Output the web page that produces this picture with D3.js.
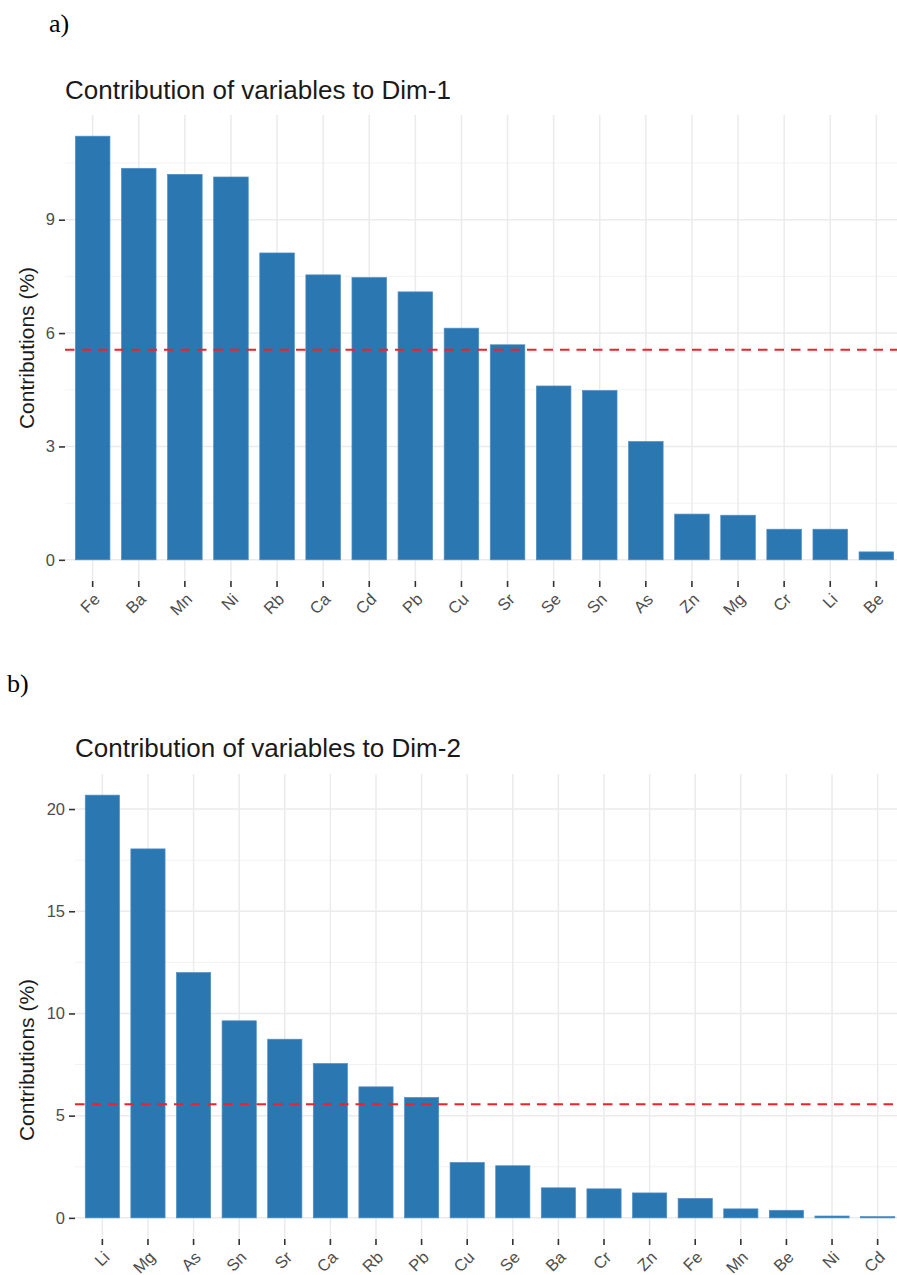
<!DOCTYPE html>
<html>
<head>
<meta charset="utf-8">
<script src="https://cdn.jsdelivr.net/npm/d3@7"></script>
<style>
  body { margin: 0; background: #fff; }
  svg { display: block; font-family: "Liberation Sans", Arial, sans-serif; }
</style>
</head>
<body>
<svg id="chart" width="897" height="1275"></svg>
<script>
// contributions
let dim1Vars = ["Fe", "Ba", "Mn", "Ni", "Rb", "Ca", "Cd", "Pb", "Cu", "Sr", "Se", "Sn", "As", "Zn", "Mg", "Cr", "Li", "Be"];
let dim1Vals = [11.21, 10.36, 10.20, 10.13, 8.12, 7.54, 7.47, 7.09, 6.13, 5.69, 4.60, 4.48, 3.13, 1.21, 1.18, 0.81, 0.81, 0.21];
let dim1Ticks = [0, 3, 6, 9];
let dim1Minor = [1.5, 4.5, 7.5, 10.5];

let dim2Vars = ["Li", "Mg", "As", "Sn", "Sr", "Ca", "Rb", "Pb", "Cu", "Se", "Ba", "Cr", "Zn", "Fe", "Mn", "Be", "Ni", "Cd"];
let dim2Vals = [20.68, 18.05, 12.00, 9.64, 8.74, 7.55, 6.41, 5.89, 2.71, 2.55, 1.47, 1.42, 1.22, 0.95, 0.44, 0.37, 0.09, 0.06];
let dim2Ticks = [0, 5, 10, 15, 20];
let dim2Minor = [2.5, 7.5, 12.5, 17.5];

let refLine = 5.56; // expected average contribution (100/18)

let svg = d3.select("#chart");
svg.append("rect").attr("width", 897).attr("height", 1275).attr("fill", "#fff");

function drawPanel(opt) {
    let g = svg.append("g");

    let x = d3.scaleBand()
        .domain(opt.vars)
        .range([opt.left, opt.right])
        .paddingInner(0.25)
        .paddingOuter(0.225);

    let maxV = d3.max(opt.vals);
    let y = d3.scaleLinear()
        .domain([-0.05 * maxV, 1.05 * maxV])
        .range([opt.bottom, opt.top]);

    // minor grid
    g.selectAll(".minor")
        .data(opt.minor)
        .enter().append("line")
        .attr("x1", opt.left).attr("x2", opt.right)
        .attr("y1", d => y(d)).attr("y2", d => y(d))
        .attr("stroke", "#f0f0f0")
        .attr("stroke-width", 0.9);

    // major grid
    g.selectAll(".majorY")
        .data(opt.ticks)
        .enter().append("line")
        .attr("x1", opt.left).attr("x2", opt.right)
        .attr("y1", d => y(d)).attr("y2", d => y(d))
        .attr("stroke", "#ebebeb")
        .attr("stroke-width", 1.5);

    g.selectAll(".majorX")
        .data(opt.vars)
        .enter().append("line")
        .attr("x1", d => x(d) + x.bandwidth() / 2)
        .attr("x2", d => x(d) + x.bandwidth() / 2)
        .attr("y1", opt.top).attr("y2", opt.bottom)
        .attr("stroke", "#ebebeb")
        .attr("stroke-width", 1.5);

    // bars
    g.selectAll(".bar")
        .data(opt.vals)
        .enter().append("rect")
        .attr("x", (d, i) => x(opt.vars[i]))
        .attr("width", x.bandwidth())
        .attr("y", d => y(d))
        .attr("height", d => y(0) - y(d))
        .attr("fill", "#2b77b2")
        .attr("stroke", "#4f8fc4")
        .attr("stroke-width", 0.7);

    // reference line
    g.append("line")
        .attr("x1", opt.left).attr("x2", opt.right)
        .attr("y1", y(refLine)).attr("y2", y(refLine))
        .attr("stroke", "#f2202a")
        .attr("stroke-width", 2)
        .attr("stroke-dasharray", "9.5,7");

    // y axis
    let yAxis = d3.axisLeft(y)
        .tickValues(opt.ticks)
        .tickSize(6)
        .tickPadding(4);
    let ya = g.append("g")
        .attr("transform", "translate(" + opt.left + ",0)")
        .call(yAxis);
    ya.select(".domain").remove();
    ya.selectAll(".tick line").attr("stroke", "#333").attr("stroke-width", 1.6);
    ya.selectAll(".tick text")
        .attr("fill", "#4d4d4d")
        .style("font-size", "16.5px")
        .style("font-family", "Liberation Sans, Arial, sans-serif");

    // x axis
    let xAxis = d3.axisBottom(x).tickSize(6).tickPadding(0);
    let xa = g.append("g")
        .attr("transform", "translate(0," + opt.bottom + ")")
        .call(xAxis);
    xa.select(".domain").remove();
    xa.selectAll(".tick line").attr("stroke", "#333").attr("stroke-width", 1.6);
    xa.selectAll(".tick text")
        .attr("fill", "#4d4d4d")
        .style("font-size", "16.5px")
        .style("font-family", "Liberation Sans, Arial, sans-serif")
        .attr("text-anchor", "end")
        .attr("y", 0)
        .attr("dy", "0.71em")
        .attr("transform", "translate(0,11) rotate(-45)");

    // title
    g.append("text")
        .attr("x", opt.left)
        .attr("y", opt.titleY)
        .attr("fill", "#1a1a1a")
        .style("font-size", "26px")
        .text(opt.title);

    // y axis title
    g.append("text")
        .attr("transform", "translate(" + 34 + "," + opt.yTitleY + ") rotate(-90)")
        .attr("text-anchor", "middle")
        .attr("fill", "#1a1a1a")
        .style("font-size", "21px")
        .text("Contributions (%)");

    // panel letter
    g.append("text")
        .attr("x", opt.letterX)
        .attr("y", opt.letterY)
        .attr("fill", "#000")
        .style("font-family", "Liberation Serif, Times New Roman, serif")
        .style("font-size", "26px")
        .text(opt.letter);
}

drawPanel({
    vars: dim1Vars, vals: dim1Vals, ticks: dim1Ticks, minor: dim1Minor,
    left: 65, right: 904, top: 115, bottom: 581,
    title: "Contribution of variables to Dim-1", titleY: 99,
    yTitleY: 348, letter: "a)", letterX: 49, letterY: 32
});

drawPanel({
    vars: dim2Vars, vals: dim2Vals, ticks: dim2Ticks, minor: dim2Minor,
    left: 75, right: 905, top: 774, bottom: 1239,
    title: "Contribution of variables to Dim-2", titleY: 757,
    yTitleY: 1060, letter: "b)", letterX: 7, letterY: 692
});
</script>
</body>
</html>
